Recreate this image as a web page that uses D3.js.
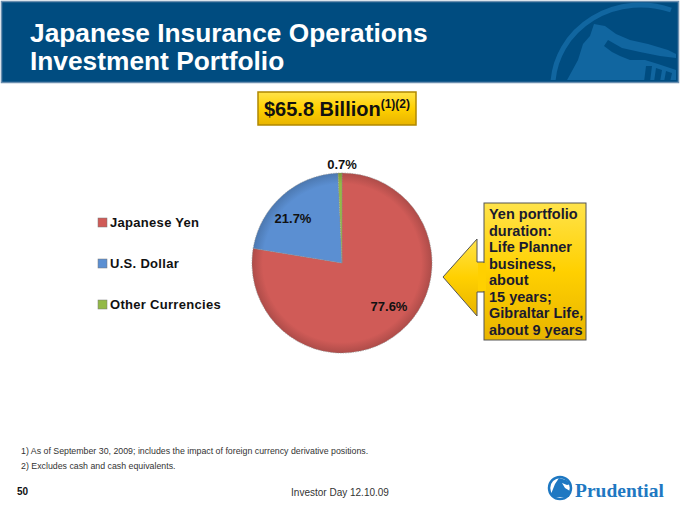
<!DOCTYPE html>
<html><head><meta charset="utf-8">
<script src="https://cdn.jsdelivr.net/npm/d3@7"></script>
<style>body{margin:0;background:#fff}svg{display:block}</style>
</head><body>
<svg id="c" width="680" height="507"></svg>
<script>
const categories = ["Japanese Yen", "U.S. Dollar", "Other Currencies"];
const values = [77.6, 21.7, 0.7];
const labels = ["77.6%", "21.7%", "0.7%"];
const colors = ["#D05B57", "#5B8FD2", "#93B947"];
const calloutLines = ["Yen portfolio","duration:","Life Planner","business,","about","15 years;","Gibraltar Life,","about 9 years"];
const footnotes = ["1)  As of September 30, 2009; includes the impact of foreign currency derivative positions.","2)  Excludes cash and cash equivalents."];

const svg = d3.select("#c");
const defs = svg.append("defs");
const F = "Arial, 'Liberation Sans', Helvetica, sans-serif";

// header
svg.append("rect").attr("x",1.5).attr("y",1.5).attr("width",677).attr("height",81)
  .attr("fill","#004C80").attr("stroke","#6b8fb0").attr("stroke-width",1.5);
const logo = svg.append("g");
logo.append("clipPath").attr("id","hclip").append("rect").attr("x",2).attr("y",2).attr("width",675).attr("height",78);
const lg = logo.append("g").attr("clip-path","url(#hclip)");
lg.append("path").attr("d","M553,82 A88,82 0 0 1 671,10").attr("fill","none").attr("stroke","#1166A0").attr("stroke-width",5);
lg.append("path").attr("d","M566,82 L578,60 L583,44 L590,36 L594,24 L605,26 L616,34 L630,40 L648,44 L668,50 L676,54 L676,58 L660,56 L640,52 L622,48 L608,40 L604,46 L612,52 L620,56 L630,60 L645,60 L658,64 L670,68 L676,70 L676,82 Z")
  .attr("fill","#1166A0");
lg.append("path").attr("d","M646,66 L652,66 L650,82 L644,82 Z M656,68 L662,70 L660,82 L654,82 Z M666,71 L672,73 L670,82 L664,82 Z").attr("fill","#004C80");

svg.append("text").attr("x",30).attr("y",42).attr("fill","#fff").attr("font-family",F)
  .attr("font-weight","bold").attr("font-size",26.3).text("Japanese Insurance Operations");
svg.append("text").attr("x",30).attr("y",70).attr("fill","#fff").attr("font-family",F)
  .attr("font-weight","bold").attr("font-size",26.3).text("Investment Portfolio");

// yellow gradient
const yg = defs.append("linearGradient").attr("id","yg").attr("x1",0).attr("y1",0).attr("x2",0).attr("y2",1);
yg.append("stop").attr("offset","0%").attr("stop-color","#FFE34A");
yg.append("stop").attr("offset","50%").attr("stop-color","#FFD000");
yg.append("stop").attr("offset","100%").attr("stop-color","#E8B400");

// billion box
svg.append("rect").attr("x",258).attr("y",92).attr("width",158).attr("height",33)
  .attr("fill","url(#yg)").attr("stroke","#B08800").attr("stroke-width",1.5);
const bt = svg.append("text").attr("x",337).attr("y",116).attr("text-anchor","middle")
  .attr("font-family",F).attr("font-weight","bold").attr("fill","#111");
bt.append("tspan").attr("font-size",20).text("$65.8 Billion");
bt.append("tspan").attr("font-size",12).attr("dy",-8).text("(1)(2)");

// pie
const cx = 342, cy = 263, r = 90;
const pie = d3.pie().sort(null).value(d=>d)(values);
const arc = d3.arc().innerRadius(0).outerRadius(r);
const g = svg.append("g").attr("transform",`translate(${cx},${cy})`);
colors.forEach((c,i)=>{
  const rg = defs.append("radialGradient").attr("id","pg"+i).attr("gradientUnits","userSpaceOnUse")
    .attr("cx",0).attr("cy",0).attr("r",r);
  rg.append("stop").attr("offset","0%").attr("stop-color",c);
  rg.append("stop").attr("offset","88%").attr("stop-color",c);
  rg.append("stop").attr("offset","100%").attr("stop-color",d3.color(c).darker(0.5));
});
g.selectAll("path").data(pie).join("path").attr("d",arc)
  .attr("fill",(d,i)=>`url(#pg${i})`).attr("stroke","#8a8a8a").attr("stroke-width",0.6).attr("stroke-dasharray","1.5,1");

const labelPos = [[47,48],[-49,-40],[0,-94]];
labels.forEach((l,i)=>{
  svg.append("text").attr("x",cx+labelPos[i][0]).attr("y",cy+labelPos[i][1]).attr("text-anchor","middle")
    .attr("font-family",F).attr("font-weight","bold").attr("font-size",13).attr("fill","#111").text(l);
});

// legend
categories.forEach((c,i)=>{
  const y = 227 + i*41;
  svg.append("rect").attr("x",98).attr("y",y-9).attr("width",9).attr("height",9)
    .attr("fill",colors[i]).attr("stroke","#777").attr("stroke-width",0.5);
  svg.append("text").attr("x",110).attr("y",y).attr("font-family",F).attr("font-weight","bold")
    .attr("font-size",13).attr("letter-spacing",0.3).attr("fill","#111").text(c);
});

// callout
svg.append("path").attr("d","M443,277 L477,239 L477,262 L485,262 L485,292 L477,292 L477,316 Z")
  .attr("fill","url(#yg)").attr("stroke","#555").attr("stroke-width",1);
svg.append("rect").attr("x",484).attr("y",203).attr("width",102).attr("height",137)
  .attr("fill","url(#yg)").attr("stroke","#555").attr("stroke-width",1);
svg.append("rect").attr("x",478).attr("y",263).attr("width",8).attr("height",28).attr("fill","#FFD000");
calloutLines.forEach((t,i)=>{
  svg.append("text").attr("x",489).attr("y",219+i*16.5).attr("font-family",F).attr("font-weight","bold")
    .attr("font-size",14.5).attr("fill","#1a1a2e").text(t);
});

// footnotes
footnotes.forEach((t,i)=>{
  svg.append("text").attr("x",21).attr("y",454+i*15).attr("font-family",F).attr("font-size",8.8)
    .attr("fill","#333").text(t);
});
svg.append("text").attr("x",17).attr("y",495).attr("font-family",F).attr("font-weight","bold")
  .attr("font-size",10).attr("fill","#111").text("50");
svg.append("text").attr("x",340).attr("y",496).attr("text-anchor","middle").attr("font-family",F)
  .attr("font-size",10).attr("fill","#333").text("Investor Day 12.10.09");

// prudential logo
const pl = svg.append("g");
pl.append("circle").attr("cx",560).attr("cy",488).attr("r",11).attr("fill","#fff").attr("stroke","#1E78C2").attr("stroke-width",2.5);
pl.append("path").attr("d","M551,494 L555,484 L559,478 L566,480 L571,484 L567,485 L562,483 L565,488 L570,491 L569,497 L553,497 Z").attr("fill","#1E78C2");
svg.append("text").attr("x",575).attr("y",497).attr("font-family","'Liberation Serif','DejaVu Serif',serif")
  .attr("font-weight","bold").attr("font-size",19.5).attr("fill","#1E78C2").text("Prudential");
</script>
</body></html>
